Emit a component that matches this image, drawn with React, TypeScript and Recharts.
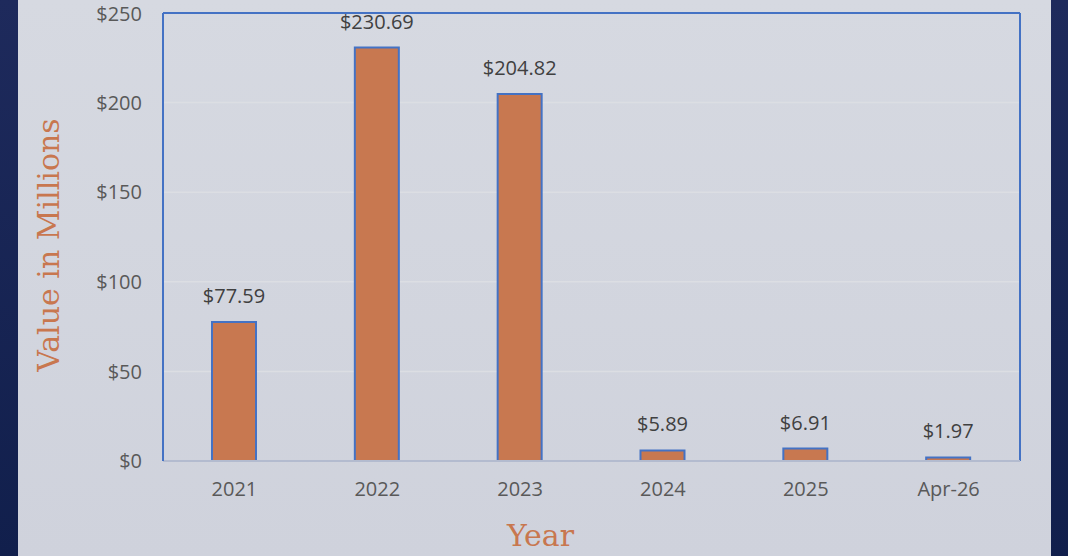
import React from 'react';
import * as R from 'recharts';
import { BarChart, Bar, XAxis, YAxis, CartesianGrid, LabelList, Label } from 'recharts';

const categories = ['2021', '2022', '2023', '2024', '2025', 'Apr-26'];
const values = [77.59, 230.69, 204.82, 5.89, 6.91, 1.97];
const yTicks = [0, 50, 100, 150, 200, 250];

const data = categories.map((c, i) => ({ year: c, value: values[i] }));

const tickFont = { fontFamily: '"Open Sans", sans-serif', fontSize: 20, fill: '#595959' };
const titleColor = '#C8774F';

const YTitle = (props: any) => {
  const vb = props.viewBox || {};
  const cx = vb.x - 15;
  const cy = vb.y + vb.height / 2 + 8;
  return (
    <text
      x={cx}
      y={cy}
      transform={`rotate(-90 ${cx} ${cy})`}
      textAnchor="middle"
      dominantBaseline="central"
      fill={titleColor}
      style={{ fontFamily: '"DejaVu Serif", serif', fontSize: 30 }}
    >
      Value in Millions
    </text>
  );
};

const PlotFrame = () => {
  const anyR: any = R;
  let area: any = null;
  if (typeof anyR.usePlotArea === 'function') {
    area = anyR.usePlotArea();
  } else if (typeof anyR.useOffset === 'function') {
    const off = anyR.useOffset();
    const w = anyR.useChartWidth ? anyR.useChartWidth() : 0;
    const h = anyR.useChartHeight ? anyR.useChartHeight() : 0;
    if (off) area = { x: off.left, y: off.top, width: w - off.left - off.right, height: h - off.top - off.bottom };
  }
  if (!area) return null;
  const { x, y, width, height } = area;
  return (
    <g>
      <line x1={x} y1={y} x2={x + width} y2={y} stroke="#4472C4" strokeWidth={2} />
      <line x1={x + width} y1={y} x2={x + width} y2={y + height} stroke="#4472C4" strokeWidth={2} />
    </g>
  );
};

export default function App() {
  return (
    <div
      style={{
        position: 'fixed',
        left: 0,
        top: 0,
        width: 1068,
        height: 556,
        background: 'linear-gradient(180deg, #1e2a5c 0%, #111f4c 100%)',
      }}
    >
      <div
        style={{
          position: 'absolute',
          left: 18,
          top: 0,
          width: 1033,
          height: 556,
          background: 'linear-gradient(180deg, #d6d9e1 0%, #cfd2dc 100%)',
        }}
      />
      <div style={{ position: 'absolute', left: 0, top: 0 }}>
        <BarChart
          width={1068}
          height={556}
          data={data}
          margin={{ top: 13, right: 48, left: 63, bottom: 0 }}
          barCategoryGap={0}
        >
          <CartesianGrid horizontal vertical={false} stroke="#dcdee3" strokeWidth={1.5} />
          <XAxis
            dataKey="year"
            height={95}
            tick={tickFont}
            tickLine={false}
            tickSize={8}
            tickMargin={13}
            axisLine={{ stroke: '#b3bbcf', strokeWidth: 2 }}
          >
            <Label
              value="Year"
              position="insideBottom"
              offset={10}
              dx={-51}
              fill={titleColor}
              style={{ fontFamily: '"DejaVu Serif", serif', fontSize: 30 }}
            />
          </XAxis>
          <YAxis
            width={100}
            domain={[0, 250]}
            ticks={yTicks}
            tickFormatter={(v: number) => `$${v}`}
            tick={tickFont}
            tickLine={false}
            tickSize={8}
            tickMargin={13}
            axisLine={{ stroke: '#4472C4', strokeWidth: 2 }}
          >
            <Label content={<YTitle />} />
          </YAxis>
          <Bar
            dataKey="value"
            barSize={44}
            fill="#C87850"
            stroke="#4472C4"
            strokeWidth={2}
            isAnimationActive={false}
          >
            <LabelList
              dataKey="value"
              position="top"
              offset={19}
              formatter={(v: any) => `$${Number(v).toFixed(2)}`}
              style={{ fontFamily: '"Open Sans", sans-serif', fontSize: 20, fill: '#404040' }}
            />
          </Bar>
          <PlotFrame />
        </BarChart>
      </div>
    </div>
  );
}
